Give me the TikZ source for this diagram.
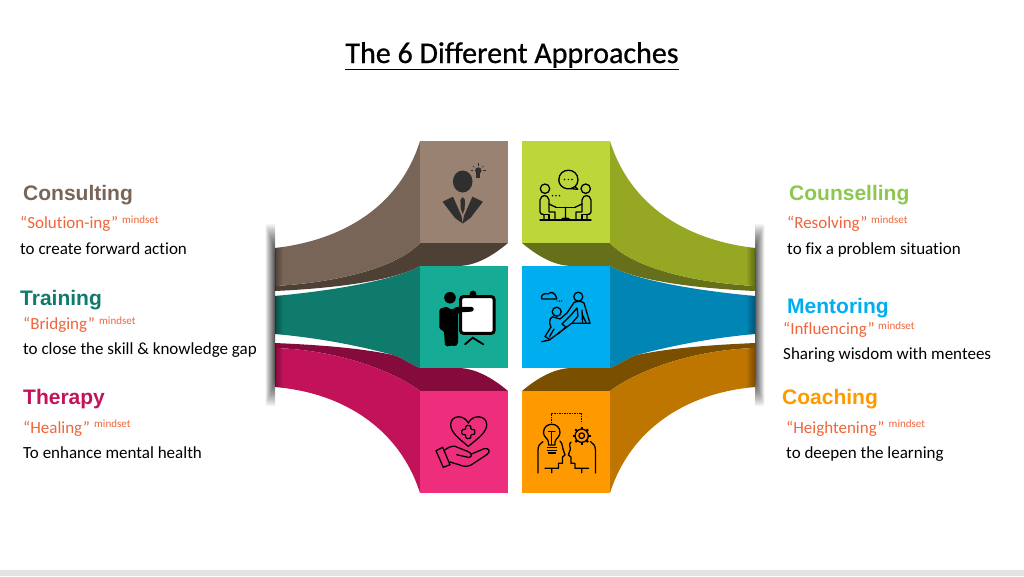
\documentclass[tikz,border=0pt]{standalone}
\usepackage{fontspec}
\setmainfont{Carlito}[Ligatures=NoCommon]
\newfontfamily\headfont{Liberation Sans}
\newfontfamily\titlefont[FakeBold=0.7,Ligatures=NoCommon]{Carlito}
\definecolor{brownF}{HTML}{9A8273}\definecolor{brownS}{HTML}{786557}\definecolor{brownD}{HTML}{4F4036}
\definecolor{tealF}{HTML}{16AB94}\definecolor{tealS}{HTML}{0F7B6C}
\definecolor{magF}{HTML}{EE2E7D}\definecolor{magS}{HTML}{C2125A}\definecolor{magD}{HTML}{860B3D}
\definecolor{greenF}{HTML}{BDD63A}\definecolor{greenS}{HTML}{96A823}\definecolor{greenD}{HTML}{66701A}
\definecolor{blueF}{HTML}{00AEEF}\definecolor{blueS}{HTML}{0085B5}
\definecolor{orangeF}{HTML}{FF9900}\definecolor{orangeS}{HTML}{BE7600}\definecolor{orangeD}{HTML}{7A4F00}
\definecolor{subC}{HTML}{F0653A}\definecolor{greenT}{HTML}{8CC850}\definecolor{suitC}{HTML}{2F2F2F}
\tikzset{
  head/.style={anchor=base west,inner sep=0pt,font=\headfont\bfseries\fontsize{21}{24}\selectfont},
  sub/.style={anchor=base west,inner sep=0pt,text=subC,font=\fontsize{17}{20}\selectfont},
  mind/.style={anchor=base west,inner sep=0pt,text=subC,font=\fontsize{11}{13}\selectfont},
  desc/.style={anchor=base west,inner sep=0pt,text=black,font=\fontsize{17}{20}\selectfont},
  ico/.style={draw=black,line width=1.3pt,line join=round,line cap=round,fill=none}
}
\def\topside{(420,141) .. controls (400,205) and (345,240) .. (275,248) -- (275,286) .. controls (345,282) and (400,265) .. (420,243) -- cycle}
\def\midside{(420,266) .. controls (397,279) and (340,290) .. (275,296) -- (275,334) .. controls (320,338) and (360,346) .. (393,355) .. controls (403,358) and (411,365) .. (420,368) -- cycle}
\def\lowside{(420,391) -- (420,493) .. controls (400,430) and (345,393) .. (275,387) -- (275,348) .. controls (340,350) and (395,372) .. (420,391) -- cycle}
\newcommand{\bandshade}{\foreach \i in {1,...,8} \fill[black,opacity=.045] (275,240) rectangle ({275+\i},400);}
% args: top face, top side, top dark, mid face, mid side, low face, low side, low dark
\newcommand{\wing}[8]{%
  \fill[#5] \midside;
  \fill[#3] (420,243) -- (508,243) .. controls (490,258) and (475,265) .. (460,266) -- (420,266) .. controls (395,280) and (340,288) .. (275,291) -- (275,286) .. controls (345,282) and (400,265) .. (420,243) -- cycle;
  \fill[#2] \topside;
  \fill[#8] (275,343) .. controls (320,345) and (360,348) .. (393,355) .. controls (403,358) and (411,365) .. (420,368) -- (460,368) .. controls (478,369) and (495,380) .. (508,391) -- (420,391) .. controls (395,372) and (340,350) .. (275,348) -- cycle;
  \fill[#7] \lowside;
  \fill[#1] (420,141) rectangle (508,243);
  \fill[#4] (420,266) rectangle (508,368);
  \fill[#6] (420,391) rectangle (508,493);
  \begin{scope}\clip (258,215) rectangle (275,415);
    \foreach \i in {1,...,24}
      \fill[black,opacity=.042,rounded corners=1.5pt] ({275-9.5*pow(\i/24,1.4)},{224+(1-\i/24)*30}) rectangle (277,{406-(1-\i/24)*30});
  \end{scope}
  \begin{scope}\clip \topside; \bandshade \end{scope}
  \begin{scope}\clip \midside; \bandshade \end{scope}
  \begin{scope}\clip \lowside; \bandshade \end{scope}
}
\begin{document}
\begin{tikzpicture}[x=1pt,y=-1pt]
\useasboundingbox (0,0) rectangle (1024,576);
\fill[white] (0,0) rectangle (1024,576);
\fill[black!11] (0,570) rectangle (1024,576);
\node[anchor=base,inner sep=0pt,font=\titlefont\fontsize{30}{34}\selectfont] (title) at (512,63) {\underline{The 6 Different Approaches}};

% shapes
\begin{scope}
\wing{brownF}{brownS}{brownD}{tealF}{tealS}{magF}{magS}{magD}
\end{scope}
\begin{scope}[xshift=1030pt,xscale=-1]
\wing{greenF}{greenS}{greenD}{blueF}{blueS}{orangeF}{orangeS}{orangeD}
\end{scope}

% consultant icon
\fill[suitC] (462.7,181.5) ellipse [x radius=9.8pt,y radius=11pt];
\fill[suitC] (442.5,201.7) -- (453,196.7) -- (461.5,216) -- (462.7,223.5) -- (455,218) -- cycle;
\fill[suitC] (482.9,201.7) -- (472.4,196.7) -- (463.9,216) -- (462.7,223.5) -- (470.4,218) -- cycle;
\fill[suitC] (462.7,197) -- (465,200) -- (464.6,209) -- (462.7,214) -- (460.8,209) -- (460.4,200) -- cycle;
\fill[suitC] (478.3,170.5) circle [radius=3.2pt];
\fill[suitC] (476.3,172) rectangle (480.3,177.5);
\foreach \a in {0,40,90,140,180}
  \draw[suitC,line width=.5pt] ({478.3+5*cos(\a)},{170.5-5*sin(\a)}) -- ({478.3+7.2*cos(\a)},{170.5-7.2*sin(\a)});

% trainer icon
\draw[black,line width=3pt,fill=white,rounded corners=2.5pt] (460.7,296.7) rectangle (494,333.3);
\fill[black] (473,294) circle [radius=3.4pt];
\draw[black,line width=1.8pt,line cap=round] (465,344.3) -- (472.7,337.7) -- (483.3,344.3);
\fill[black] (450,297.7) circle [radius=5.8pt];
\fill[black,rounded corners=1.5pt] (439.3,309) -- (447,306.5) -- (451,310) -- (457,306.8) -- (473.5,306.8) -- (473.5,311.5) -- (458,312.5) -- (458,344) -- (455,346.5) -- (451,345) -- (449,346.5) -- (445,346) -- (444,331) -- (439.3,329) -- cycle;

% heart + hand icon
\draw[ico] (468.3,446.3) .. controls (458,438) and (450.7,432) .. (450.7,424.7) .. controls (450.7,415) and (464,414) .. (468.3,423) .. controls (472.6,414) and (486.7,415) .. (486.7,424.7) .. controls (486.7,432) and (478.6,438) .. (468.3,446.3) -- cycle;
\draw[ico,rounded corners=1.2pt] (465.8,425.5) -- (470.8,425.5) -- (470.8,429.5) -- (474.8,429.5) -- (474.8,434.5) -- (470.8,434.5) -- (470.8,438.5) -- (465.8,438.5) -- (465.8,434.5) -- (461.8,434.5) -- (461.8,429.5) -- (465.8,429.5) -- cycle;
\draw[ico] (436,450.7) -- (442.7,447.3) -- (450,464.7) -- (443.3,467.3) -- cycle;
\draw[ico] (444,450.7) .. controls (448,447) and (452,446) .. (455,446.3) -- (468,451.5) .. controls (472,453) and (472.5,457) .. (469,457.5) -- (456.7,454.7);
\draw[ico] (471.5,454) -- (484,448.7) .. controls (489,447.5) and (491,451.5) .. (487,454.5) -- (471,465) .. controls (467,467) and (463,466.5) .. (460,465) -- (450,462);

% counselling icon
\draw[ico] (577.7,189.3) -- (575,186.5) .. controls (568,192) and (558.8,187) .. (558.8,180) .. controls (558.8,167) and (578,167) .. (578,180) .. controls (578,183) and (576.5,185) .. (575,186.5);
\draw[ico] (577.7,189.3) -- (571,188.6);
\foreach \x in {564.5,568.3,572} \fill[black] (\x,179.5) circle [radius=.8pt];
\foreach \x in {552.5,556,559.5} \fill[black] (\x,195.7) circle [radius=.8pt];
\draw[ico] (545,188.7) circle [radius=4.7pt];
\draw[ico] (585.7,188.7) circle [radius=4.7pt];
\draw[ico] (540,220) -- (591,220);
\draw[ico] (556,207.3) -- (575,207.3);
\draw[ico] (565.5,207.3) -- (565.5,217) (561,220) .. controls (561,217.5) and (570,217.5) .. (570,220);
\draw[ico] (555,220) -- (555,212) -- (549,212) -- (549,200) .. controls (548,194) and (541,194) .. (540,200) -- (540,212) .. controls (540,214) and (542,214.5) .. (544,214.5) -- (544,220);
\draw[ico] (549,204) -- (556,207.3);
\draw[ico] (549,220) -- (549,214.5) -- (544,214.5);
\draw[ico] (576,220) -- (576,212) -- (582,212) -- (582,200) .. controls (583,194) and (590,194) .. (591,200) -- (591,212) .. controls (591,214) and (589,214.5) .. (587,214.5) -- (587,220);
\draw[ico] (582,204) -- (575,207.3);
\draw[ico] (582,220) -- (582,214.5) -- (587,214.5);

% mentoring icon
\draw[ico] (541.7,299) .. controls (540,295) and (545,292.5) .. (548,294) .. controls (551,291) and (555,292.5) .. (556.7,298) -- (556.7,299) -- cycle;
\foreach \x in {557,559.3,561.6} \fill[black] (\x,301) circle [radius=.7pt];
\draw[ico] (578.3,296.7) circle [radius=4.5pt];
\draw[ico] (556.7,311.7) circle [radius=4.5pt];
\draw[ico] (541.7,341.7) -- (549.3,340) -- (571.7,323.3) -- (590,323.3);
\draw[ico] (567,313) -- (574,302.5) .. controls (577,301) and (582,301) .. (584,303) -- (590,323.3);
\draw[ico] (571,315) -- (577,308) -- (578,316) -- (572.5,322.5);
\draw[ico] (582,310) -- (582.5,322.5) (582,314) -- (586,322.5);
\draw[ico] (567,313) -- (560,319) -- (552.5,316.8) .. controls (549,318) and (549,324) .. (551,327) -- (545,336.5) -- (549,339);
\draw[ico] (571,315) -- (562,324) -- (566,327) -- (558,334);
\draw[ico] (554,329) -- (549.3,337);

% coaching icon
\draw[black,line width=1.3pt,dash pattern=on 1.4pt off 1.1pt] (551.7,423.3) -- (551.7,413.3) -- (581.7,413.3) -- (581.7,423.3);
\draw[ico] (548.5,445) -- (548.5,442) .. controls (548,438.5) and (543.5,437) .. (543.5,432.5) .. controls (543.5,421.5) and (560,421.5) .. (560,432.5) .. controls (560,437) and (555.5,438.5) .. (555,442) -- (555,445) -- cycle;
\draw[ico] (548.5,431.5) -- (555,431.5) (551.7,431.5) -- (551.7,444);
\draw[black,line width=1.2pt] (546.7,447.7) -- (556.7,447.7) (546.7,450.3) -- (556.7,450.3) (547.7,453) -- (555.7,453);
\draw[ico] (581.7,435.7) circle [radius=6.6pt];
\draw[ico] (581.7,435.7) circle [radius=2.8pt];
\foreach \a in {0,45,...,315}
  \draw[black,line width=2.1pt] ({581.7+6.6*cos(\a)},{435.7+6.6*sin(\a)}) -- ({581.7+9*cos(\a)},{435.7+9*sin(\a)});
\draw[ico] (538,473) -- (538,450) .. controls (538,446) and (540,443) .. (543,441.5);
\draw[ico] (560,441) .. controls (563,444) and (562,447) .. (563,449) -- (565,455) -- (562.5,457) -- (562.5,463.3) -- (558.5,463.3) -- (558.5,468.3) -- (545,468.3) (551.7,468.3) -- (551.7,472.7);
\draw[ico] (595.4,473) -- (595.4,450) .. controls (595.4,446) and (593.4,443) .. (590.4,441.5);
\draw[ico] (571,442) .. controls (568,445) and (571,447) .. (570.4,449) -- (568.4,455) -- (570.9,457) -- (570.9,463.3) -- (574.9,463.3) -- (574.9,468.3) -- (588.4,468.3) (581.7,468.3) -- (581.7,472.7);

% left texts
\node[head,text=brownS] (h1) at (23,200) {Consulting};
\node[sub] (s1) at (20,228) {“Solution-ing”};
\node[mind] (m1) at (122,223) {mindset};
\node[desc] (d1) at (20,254.5) {to create forward action};
\node[head,text=tealS] (h2) at (20,305) {Training};
\node[sub] (s2) at (23,329) {“Bridging”};
\node[mind] (m2) at (99,324) {mindset};
\node[desc] (d2) at (23,354.5) {to close the skill \& knowledge gap};
\node[head,text=magS] (h3) at (23,404) {Therapy};
\node[sub] (s3) at (23,433) {“Healing”};
\node[mind] (m3) at (94,427) {mindset};
\node[desc] (d3) at (23,458.5) {To enhance mental health};
% right texts
\node[head,text=greenT] (h4) at (789,200) {Counselling};
\node[sub] (s4) at (787,228) {“Resolving”};
\node[mind] (m4) at (871,223) {mindset};
\node[desc] (d4) at (787,254.5) {to fix a problem situation};
\node[head,text=blueF] (h5) at (787,313) {Mentoring};
\node[sub] (s5) at (783,334) {“Influencing”};
\node[mind] (m5) at (878,329) {mindset};
\node[desc] (d5) at (783,359.5) {Sharing wisdom with mentees};
\node[head,text=orangeF] (h6) at (782,404) {Coaching};
\node[sub] (s6) at (786,433) {“Heightening”};
\node[mind] (m6) at (888.5,427) {mindset};
\node[desc] (d6) at (786,458.5) {to deepen the learning};
\end{tikzpicture}
\end{document}
